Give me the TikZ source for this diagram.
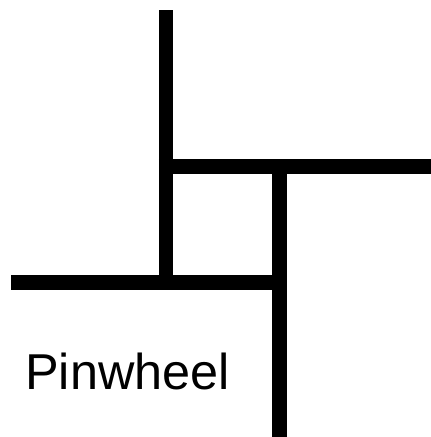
\documentclass[tikz,border=0pt]{standalone}
\usepackage{fontspec}
\setmainfont{Liberation Sans}
\begin{document}
\begin{tikzpicture}[x=1pt,y=-1pt,
  bar/.style={line width=14.5pt,black,line cap=butt},
  lbl/.style={inner sep=0pt,anchor=base west,font=\fontsize{50.4}{52}\selectfont}]
\useasboundingbox (0,0) rectangle (431,437);
\coordinate (v1t) at (166,10);
\coordinate (v1b) at (166,282.5);
\coordinate (h1l) at (158.75,166.5);
\coordinate (h1r) at (431,166.5);
\coordinate (v2t) at (279.5,166.5);
\coordinate (v2b) at (279.5,437);
\coordinate (h2l) at (11,282.5);
\coordinate (h2r) at (286.75,282.5);
\draw[bar] (v1t) -- (v1b);
\draw[bar] (h1l) -- (h1r);
\draw[bar] (v2t) -- (v2b);
\draw[bar] (h2l) -- (h2r);
\node[lbl] (name) at (25,389) {Pinwheel};
\end{tikzpicture}
\end{document}
